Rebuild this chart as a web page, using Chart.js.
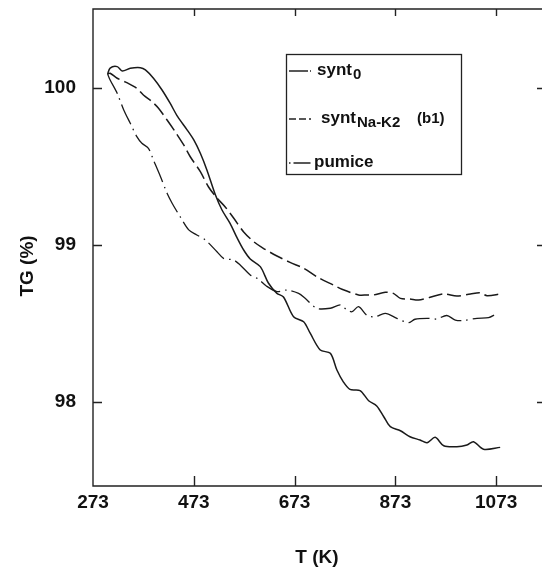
<!DOCTYPE html>
<html lang="en">
<head>
    <meta charset="UTF-8">
    <title>TG curves</title>
    <script src="https://cdn.jsdelivr.net/npm/chart.js@4.4.0/dist/chart.umd.min.js"></script>
    <style>
        body { margin: 0; background: #fff; }
        #grafico { display: block; }
    </style>
</head>
<body>
    <canvas id="grafico" width="542" height="568"></canvas>

<script>
    // tick labels
    const xTicks = [273, 473, 673, 873, 1073];
    const yTicks = [98, 99, 100];

    // synt0 (solid)
    const synt0T = [302, 307, 321, 331, 347, 367, 377, 393, 410, 426, 441, 460, 473, 486, 499, 516, 529, 545, 559, 572, 585, 605, 621, 638, 651, 671, 691, 704, 724, 744, 757, 770, 783, 803, 820, 836, 850, 863, 883, 902, 922, 936, 952, 969, 995, 1015, 1028, 1048, 1081];
    const synt0TG = [100.089, 100.127, 100.136, 100.108, 100.125, 100.129, 100.115, 100.062, 99.987, 99.903, 99.817, 99.732, 99.669, 99.584, 99.478, 99.318, 99.223, 99.138, 99.045, 98.968, 98.911, 98.862, 98.758, 98.692, 98.669, 98.543, 98.511, 98.438, 98.331, 98.310, 98.204, 98.127, 98.080, 98.073, 98.008, 97.975, 97.906, 97.843, 97.817, 97.779, 97.758, 97.741, 97.775, 97.721, 97.715, 97.726, 97.747, 97.699, 97.711];

    // syntNa-K2 (b1) (dashed)
    const syntNaT = [302, 307, 321, 340, 360, 373, 390, 403, 420, 436, 453, 466, 486, 502, 519, 535, 552, 572, 592, 611, 638, 664, 691, 717, 750, 767, 800, 817, 830, 853, 869, 883, 902, 919, 942, 969, 995, 1022, 1041, 1055, 1081];
    const syntNaTG = [100.089, 100.094, 100.062, 100.034, 99.998, 99.955, 99.913, 99.871, 99.796, 99.722, 99.637, 99.562, 99.467, 99.371, 99.299, 99.244, 99.172, 99.083, 99.021, 98.979, 98.930, 98.889, 98.852, 98.798, 98.745, 98.718, 98.682, 98.682, 98.682, 98.699, 98.692, 98.660, 98.656, 98.650, 98.667, 98.688, 98.675, 98.688, 98.696, 98.677, 98.688];

    // pumice (dash-dot)
    const pumiceT = [302, 307, 321, 334, 347, 360, 370, 383, 393, 407, 420, 430, 446, 463, 479, 496, 519, 532, 552, 565, 585, 601, 617, 638, 658, 681, 694, 717, 744, 764, 777, 787, 800, 817, 833, 853, 876, 899, 912, 936, 955, 975, 992, 1008, 1035, 1058, 1071];
    const pumiceTG = [100.089, 100.051, 99.966, 99.860, 99.775, 99.690, 99.648, 99.616, 99.541, 99.435, 99.329, 99.266, 99.180, 99.096, 99.064, 99.032, 98.957, 98.915, 98.904, 98.873, 98.809, 98.783, 98.739, 98.703, 98.713, 98.692, 98.660, 98.597, 98.597, 98.618, 98.586, 98.575, 98.607, 98.551, 98.543, 98.564, 98.533, 98.505, 98.527, 98.533, 98.529, 98.551, 98.522, 98.519, 98.533, 98.537, 98.557];

    const cor = '#1a1a1a';
    const fonte = '"Liberation Sans", Arial, Helvetica, sans-serif';

    function pontos(xs, ys) {
        return xs.map((v, i) => ({ x: v, y: ys[i] }));
    }

    // eixos, ticks internos, titulos e legenda desenhados a mao
    const moldura = {
        id: 'moldura',
        afterDraw(chart) {
            const ctx = chart.ctx;
            const a = chart.chartArea;
            const sx = chart.scales.x;
            const sy = chart.scales.y;
            ctx.save();
            ctx.strokeStyle = '#222';
            ctx.lineWidth = 1.4;
            ctx.setLineDash([]);

            ctx.beginPath();
            ctx.moveTo(a.right, a.top);
            ctx.lineTo(a.left, a.top);
            ctx.lineTo(a.left, a.bottom);
            ctx.lineTo(a.right, a.bottom);
            ctx.stroke();

            // ticks
            ctx.beginPath();
            xTicks.forEach(v => {
                const px = Math.round(sx.getPixelForValue(v)) + 0.5;
                if (v === xTicks[0]) return;
                ctx.moveTo(px, a.bottom);
                ctx.lineTo(px, a.bottom - 10);
                ctx.moveTo(px, a.top);
                ctx.lineTo(px, a.top + 7);
            });
            yTicks.forEach(v => {
                const py = Math.round(sy.getPixelForValue(v)) + 0.5;
                ctx.moveTo(a.left, py);
                ctx.lineTo(a.left + 9, py);
                ctx.moveTo(a.right, py);
                ctx.lineTo(a.right - 5, py);
            });
            ctx.stroke();

            // tick labels
            ctx.fillStyle = '#111';
            ctx.font = 'bold 19px ' + fonte;
            ctx.textAlign = 'center';
            ctx.textBaseline = 'middle';
            xTicks.forEach(v => {
                ctx.fillText(String(v), sx.getPixelForValue(v), a.bottom + 17);
            });
            ctx.textAlign = 'right';
            yTicks.forEach(v => {
                ctx.fillText(String(v), a.left - 17, sy.getPixelForValue(v));
            });

            // titulos
            ctx.textAlign = 'center';
            ctx.fillText('T (K)', 317, 558);
            ctx.save();
            ctx.translate(28, 266);
            ctx.rotate(-Math.PI / 2);
            ctx.fillText('TG (%)', 0, 0);
            ctx.restore();

            // legenda
            ctx.lineWidth = 1.3;
            ctx.strokeRect(286.5, 54.5, 175, 120);
            const amostras = [
                { y: 71, dash: [19, 2, 1.5, 100], txt: 'synt', sub: '0', extra: '', tx: 317 },
                { y: 119, dash: [7, 3], txt: 'synt', sub: 'Na-K2', extra: '(b1)', tx: 321 },
                { y: 163, dash: [1.5, 3, 17, 100], txt: 'pumice', sub: '', extra: '', tx: 314 }
            ];
            ctx.textAlign = 'left';
            ctx.textBaseline = 'alphabetic';
            amostras.forEach(s => {
                ctx.setLineDash(s.dash);
                ctx.beginPath();
                ctx.moveTo(289, s.y);
                ctx.lineTo(311, s.y);
                ctx.stroke();
                ctx.setLineDash([]);
                ctx.font = 'bold 17px ' + fonte;
                ctx.fillText(s.txt, s.tx, s.y + 4);
                const fim = s.tx + ctx.measureText(s.txt).width;
                if (s.sub) {
                    ctx.font = 'bold 15px ' + fonte;
                    ctx.fillText(s.sub, fim + 1, s.y + 8);
                }
                if (s.extra) {
                    ctx.font = 'bold 15px ' + fonte;
                    ctx.fillText(s.extra, 417, s.y + 4);
                }
            });
            ctx.restore();
        }
    };

    const dados = {
        datasets: [
            {
                label: 'synt0',
                data: pontos(synt0T, synt0TG),
                borderColor: cor,
                borderWidth: 1.5
            },
            {
                label: 'syntNa-K2 (b1)',
                data: pontos(syntNaT, syntNaTG),
                borderColor: cor,
                borderWidth: 1.5,
                borderDash: [14, 5]
            },
            {
                label: 'pumice',
                data: pontos(pumiceT, pumiceTG),
                borderColor: cor,
                borderWidth: 1.3,
                borderDash: [22, 5, 1.5, 5]
            }
        ]
    };

    const config = {
        type: 'line',
        data: dados,
        options: {
            responsive: false,
            animation: false,
            devicePixelRatio: 1,
            layout: { padding: { left: 93, top: 9, right: 0, bottom: 82 } },
            elements: {
                point: { radius: 0 },
                line: { tension: 0.3, fill: false }
            },
            plugins: {
                legend: { display: false },
                tooltip: { enabled: false }
            },
            scales: {
                x: { type: 'linear', min: 273, max: 1164, display: false },
                y: { type: 'linear', min: 97.465, max: 100.503, display: false }
            }
        },
        plugins: [moldura]
    };

    new Chart(document.getElementById('grafico'), config);
</script>
</body>
</html>
